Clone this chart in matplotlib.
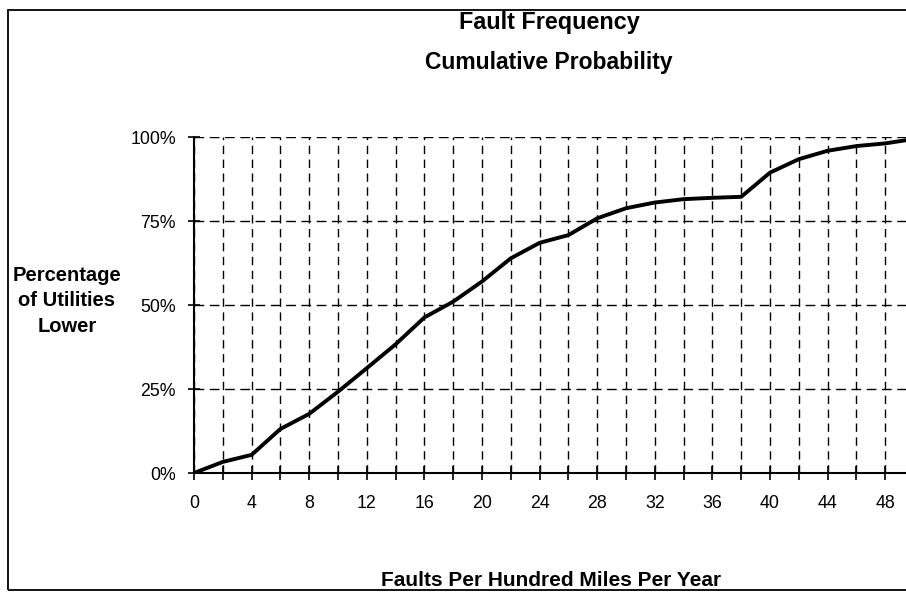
import matplotlib
matplotlib.use("Agg")
import matplotlib.pyplot as plt
from matplotlib.ticker import MultipleLocator, FuncFormatter
from matplotlib.patches import Rectangle

# Data
faults = [0, 2, 4, 6, 8, 10, 12, 14, 16, 18, 20, 22, 24, 26, 28, 30, 32, 34,
          36, 38, 40, 42, 44, 46, 48, 50]
cum_pct = [0, 3.3, 5.4, 13.1, 17.6, 24.2, 31.2, 38.3, 46.3, 51.0, 57.0, 63.9,
           68.5, 70.8, 75.8, 78.8, 80.5, 81.5, 81.9, 82.2, 89.4, 93.4, 95.9,
           97.3, 98.1, 99.4]
x_major = list(range(0, 49, 4))
y_major = [0, 25, 50, 75, 100]

title1 = "Fault Frequency"
title2 = "Cumulative Probability"
xlabel = "Faults Per Hundred Miles Per Year"
ylabel = "Percentage\nof Utilities\nLower"

plt.rcParams['font.family'] = ['Liberation Sans', 'DejaVu Sans']

W, H = 906, 596
fig = plt.figure(figsize=(W / 100, H / 100), dpi=100)
fig.patch.set_facecolor('white')

# outer border
fig.patches.append(Rectangle((8 / W, 6 / H), 1.2, (590 - 10) / H,
                             transform=fig.transFigure, fill=False,
                             edgecolor='black', linewidth=1.3))

ax = fig.add_axes([194 / W, 123 / H, 720 / W, 336 / H])
ax.set_facecolor('none')
ax.plot(faults, cum_pct, color='black', linewidth=2.8, solid_joinstyle='round',
        zorder=5, clip_on=True)

ax.set_xlim(0, 50)
ax.set_ylim(0, 100)
ax.set_xticks(x_major)
ax.xaxis.set_minor_locator(MultipleLocator(2))
ax.set_yticks(y_major)
ax.yaxis.set_major_formatter(FuncFormatter(lambda v, p: f"{int(v)}%"))

ax.grid(True, which='both', axis='x', color='black', linestyle=(0, (6, 4)),
        linewidth=1.0)
ax.grid(True, which='major', axis='y', color='black', linestyle=(0, (7, 4)),
        linewidth=1.0)
ax.set_axisbelow(True)

for s in ['top', 'right']:
    ax.spines[s].set_visible(False)
for s in ['left', 'bottom']:
    ax.spines[s].set_linewidth(1.5)
    ax.spines[s].set_color('black')
    ax.spines[s].set_zorder(6)

ax.tick_params(axis='x', which='both', direction='inout', length=10, width=1.2,
               labelsize=12.8, pad=11)
ax.tick_params(axis='y', which='major', direction='inout', length=8, width=1.2,
               labelsize=12.8, pad=9)

fig.text(549 / W, 1 - 23 / H, title1, ha='center', va='center',
         fontsize=16.8, fontweight='bold')
fig.text(549 / W, 1 - 62 / H, title2, ha='center', va='center',
         fontsize=16.5, fontweight='bold')
fig.text(551 / W, 1 - 580 / H, xlabel, ha='center', va='center',
         fontsize=15, fontweight='bold')
fig.text(67 / W, 1 - 301 / H, ylabel, ha='center', va='center',
         fontsize=14.5, fontweight='bold', linespacing=1.45)

fig.savefig("out.png", dpi=100, facecolor='white')
